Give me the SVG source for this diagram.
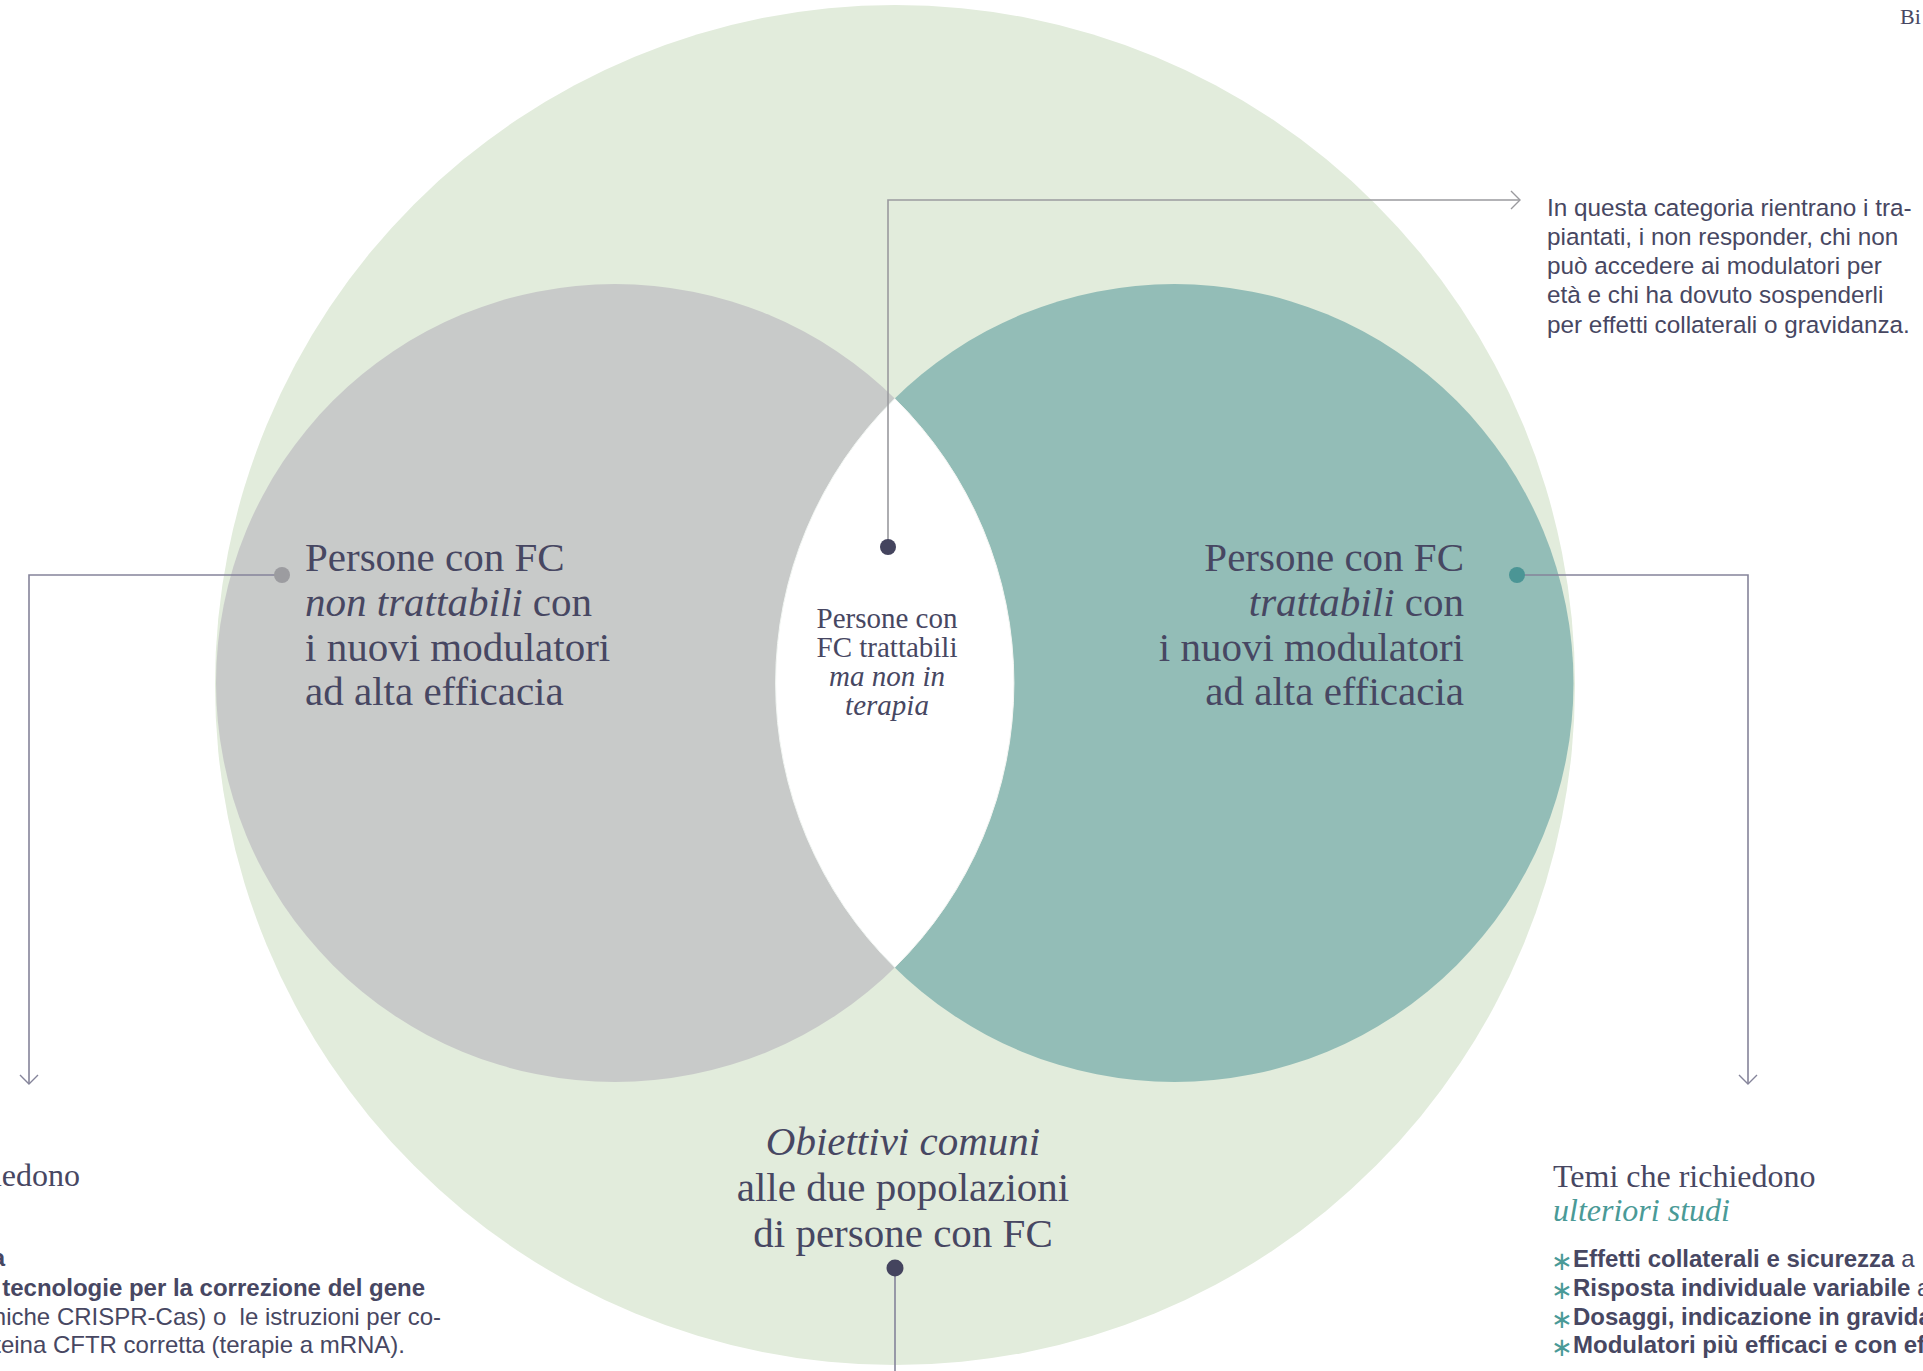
<svg xmlns="http://www.w3.org/2000/svg" width="1923" height="1371" viewBox="0 0 1923 1371">
<style>
.serif{font-family:"Liberation Serif","Times New Roman",serif;fill:#474762}
.big{font-size:41px}
.mid{font-size:29px}
.sans{font-family:"Liberation Sans",Arial,sans-serif;fill:#474762}
.note{font-size:24.3px}
.bul{font-size:24px}
.b{font-weight:bold}
.ast{fill:#4a9a97;font-family:"DejaVu Sans","Liberation Sans",sans-serif;font-size:26px}
.conn{fill:none;stroke:#85849a;stroke-width:1.6}
.connl{fill:none;stroke:#9a9a9e;stroke-width:1.6}
</style>
<defs>
<marker id="chev" viewBox="-12 -12 14 24" markerWidth="14" markerHeight="24" refX="0" refY="0" orient="auto" markerUnits="userSpaceOnUse">
<path d="M -9,-9 L 0,0 L -9,9" fill="none" stroke="#85849a" stroke-width="1.4"/>
</marker>
<marker id="chevl" viewBox="-12 -12 14 24" markerWidth="14" markerHeight="24" refX="0" refY="0" orient="auto" markerUnits="userSpaceOnUse">
<path d="M -9,-9 L 0,0 L -9,9" fill="none" stroke="#9a9a9e" stroke-width="1.4"/>
</marker>
</defs>
<rect width="1923" height="1371" fill="#ffffff"/>

<g id="common-circle">
<circle cx="895" cy="685" r="680" fill="#e2ecdc"/>
</g>
<g id="non-trattabili">
<circle cx="615" cy="683" r="399" fill="#c8cac9"/>
</g>
<g id="trattabili">
<circle cx="1174.5" cy="683" r="399" fill="#93bdb7"/>
</g>
<g id="lens">
<path d="M 894.75,398.6 A 399,399 0 0,1 894.75,967.4 A 399,399 0 0,1 894.75,398.6 Z" fill="#ffffff" stroke="#f4f6f3" stroke-width="1"/>
</g>

<g id="connectors">
<path class="conn" d="M 282,575 H 29 V 1084" marker-end="url(#chev)"/>
<path class="conn" d="M 1517,575 H 1748 V 1084" marker-end="url(#chev)"/>
<path class="connl" d="M 888,546 V 200 H 1520" marker-end="url(#chevl)"/>
<path class="conn" d="M 895,1268 V 1371"/>
<circle cx="282" cy="575" r="8" fill="#9c9ca0"/>
<circle cx="1517" cy="575" r="8" fill="#4b9595"/>
<circle cx="888" cy="547" r="8" fill="#44445e"/>
<circle cx="895" cy="1268" r="8.5" fill="#44445e"/>
</g>

<g id="label-non-trattabili" class="serif big">
<text x="305" y="571">Persone con FC</text>
<text x="305" y="616"><tspan font-style="italic">non trattabili</tspan> con</text>
<text x="305" y="661">i nuovi modulatori</text>
<text x="305" y="705">ad alta efficacia</text>
</g>

<g id="label-trattabili" class="serif big" text-anchor="end">
<text x="1464" y="571">Persone con FC</text>
<text x="1464" y="616"><tspan font-style="italic">trattabili</tspan> con</text>
<text x="1464" y="661">i nuovi modulatori</text>
<text x="1464" y="705">ad alta efficacia</text>
</g>

<g id="label-lens" class="serif mid" text-anchor="middle">
<text x="887" y="628">Persone con</text>
<text x="887" y="657">FC trattabili</text>
<text x="887" y="686" font-style="italic">ma non in</text>
<text x="887" y="715" font-style="italic">terapia</text>
</g>

<g id="label-common" class="serif big" text-anchor="middle">
<text x="903" y="1155" font-style="italic">Obiettivi comuni</text>
<text x="903" y="1201">alle due popolazioni</text>
<text x="903" y="1247">di persone con FC</text>
</g>

<g id="note-top" class="sans note">
<text x="1547" y="215.5">In questa categoria rientrano i tra-</text>
<text x="1547" y="244.8">piantati, i non responder, chi non</text>
<text x="1547" y="274.1">può accedere ai modulatori per</text>
<text x="1547" y="303.4">età e chi ha dovuto sospenderli</text>
<text x="1547" y="332.7">per effetti collaterali o gravidanza.</text>
</g>

<g id="topics-right">
<text class="serif" x="1553" y="1187" font-size="32">Temi che richiedono</text>
<text class="serif" x="1553" y="1221" font-size="32" font-style="italic" style="fill:#4a9a97">ulteriori studi</text>
<text class="ast" x="1551" y="1270">∗</text>
<text class="ast" x="1551" y="1299">∗</text>
<text class="ast" x="1551" y="1327.5">∗</text>
<text class="ast" x="1551" y="1356">∗</text>
<text class="sans bul" x="1573" y="1267"><tspan class="b">Effetti collaterali e sicurezza</tspan> a</text>
<text class="sans bul" x="1573" y="1296"><tspan class="b">Risposta individuale variabile</tspan> a</text>
<text class="sans bul b" x="1573" y="1324.5">Dosaggi, indicazione in gravida</text>
<text class="sans bul b" x="1573" y="1353">Modulatori più efficaci e con ef</text>
</g>

<g id="topics-left" text-anchor="end">
<text class="serif" x="80" y="1186" font-size="32">iedono</text>
<text class="sans bul b" x="5" y="1266">a</text>
<text class="sans bul b" x="425" y="1296">tecnologie per la correzione del gene</text>
<text class="sans bul" x="441" y="1324.5" xml:space="preserve">niche CRISPR-Cas) o  le istruzioni per co-</text>
<text class="sans bul" x="405" y="1353">teina CFTR corretta (terapie a mRNA).</text>
</g>

<g id="page-header">
<text class="serif" x="1900" y="24" font-size="22">Bi</text>
</g>
</svg>
